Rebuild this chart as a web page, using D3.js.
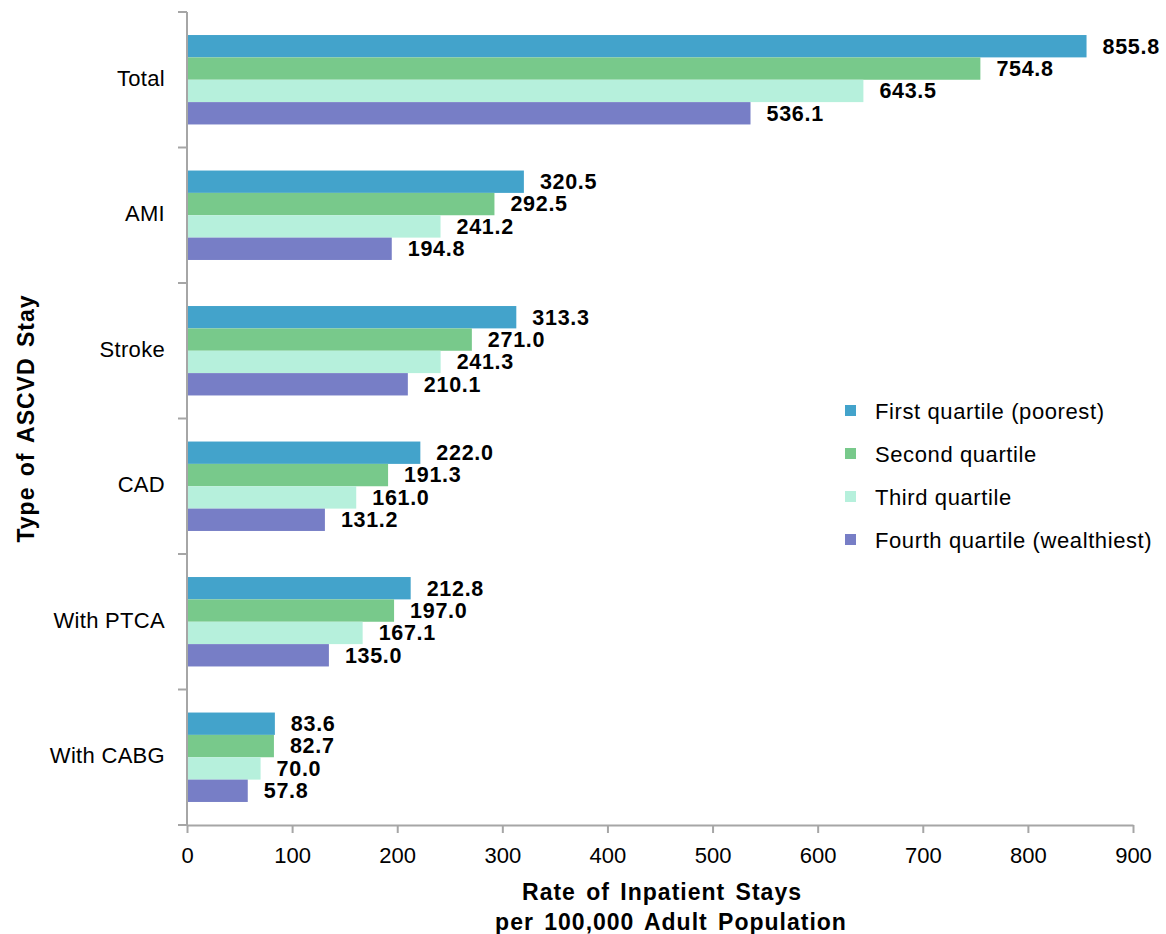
<!DOCTYPE html>
<html>
<head>
<meta charset="utf-8">
<script src="https://cdn.jsdelivr.net/npm/d3@7"></script>
<style>
  body { margin: 0; background: #fff; }
  text { font-family: "Liberation Sans", Arial, sans-serif; fill: #000; }
</style>
</head>
<body>
<div id="chart"></div>
<script>
// categories, top to bottom
var categories = ["Total", "AMI", "Stroke", "CAD", "With PTCA", "With CABG"];
var seriesNames = ["First quartile (poorest)", "Second quartile", "Third quartile", "Fourth quartile (wealthiest)"];
var seriesColors = ["#43a3cb", "#78c98b", "#b6f0dc", "#777ec6"];

// values per series, same order as categories
var firstQ  = [855.8, 320.5, 313.3, 222.0, 212.8, 83.6];
var secondQ = [754.8, 292.5, 271.0, 191.3, 197.0, 82.7];
var thirdQ  = [643.5, 241.2, 241.3, 161.0, 167.1, 70.0];
var fourthQ = [536.1, 194.8, 210.1, 131.2, 135.0, 57.8];
var series = [firstQ, secondQ, thirdQ, fourthQ];

var xTicks = [0, 100, 200, 300, 400, 500, 600, 700, 800, 900];

var W = 1166, H = 934;
var mLeft = 187, mRight = 1133, mTop = 12, mBottom = 825;

var svg = d3.select("#chart").append("svg")
    .attr("width", W)
    .attr("height", H);

var x = d3.scaleLinear().domain([0, 900]).range([mLeft, mRight]);
var y = d3.scaleBand().domain(categories).range([mTop, mBottom])
    .paddingInner(0.34).paddingOuter(0.17);
var ySub = d3.scaleBand().domain(d3.range(series.length)).range([0, y.bandwidth()]);

// rows of flat data for drawing
var rows = [];
categories.forEach(function(c, i) {
  series.forEach(function(s, j) {
    rows.push({ cat: c, s: j, v: s[i] });
  });
});

// bars
svg.append("g").selectAll("rect")
    .data(rows)
    .enter()
    .append("rect")
    .attr("x", x(0))
    .attr("y", function(d) { return y(d.cat) + ySub(d.s); })
    .attr("width", function(d) { return x(d.v) - x(0); })
    .attr("height", ySub.bandwidth())
    .attr("fill", function(d) { return seriesColors[d.s]; });

// value labels
svg.append("g").selectAll("text")
    .data(rows)
    .enter()
    .append("text")
    .attr("x", function(d) { return x(d.v) + 16; })
    .attr("y", function(d) { return y(d.cat) + ySub(d.s) + ySub.bandwidth() / 2; })
    .attr("dy", "0.34em")
    .style("font-size", "21.5px")
    .style("font-weight", "bold")
    .style("letter-spacing", "0.7px")
    .text(function(d) { return d.v.toFixed(1); });

// x axis
var xAxis = svg.append("g")
    .attr("transform", "translate(0," + mBottom + ")")
    .call(d3.axisBottom(x).tickValues(xTicks).tickSize(8).tickSizeOuter(0).tickPadding(14));
xAxis.selectAll("text").style("font-size", "22px").attr("fill", "#000");

// y axis: ticks at the category boundaries
var yBounds = categories.map(function(c) { return y(c) - y.step() * y.paddingInner() / 2; });
yBounds.push(mBottom);
var yAxis = svg.append("g");
yAxis.append("line")
    .attr("x1", mLeft).attr("x2", mLeft)
    .attr("y1", mTop).attr("y2", mBottom);
yAxis.selectAll(".tk")
    .data(yBounds)
    .enter()
    .append("line")
    .attr("x1", mLeft - 9).attr("x2", mLeft)
    .attr("y1", function(d) { return d; })
    .attr("y2", function(d) { return d; });
yAxis.selectAll("line").attr("stroke", "#a6a6a6").attr("stroke-width", 2);
xAxis.selectAll("line, path").attr("stroke", "#a6a6a6").attr("stroke-width", 2);

// category labels
svg.append("g").selectAll("text")
    .data(categories)
    .enter()
    .append("text")
    .attr("x", 165)
    .attr("y", function(d) { return y(d) + y.bandwidth() / 2 - 2; })
    .attr("dy", "0.36em")
    .attr("text-anchor", "end")
    .style("font-size", "22px")
    .style("letter-spacing", "0.3px")
    .text(function(d) { return d; });

// axis titles
svg.append("text")
    .attr("transform", "translate(34," + ((mTop + mBottom) / 2) + ") rotate(-90)")
    .attr("text-anchor", "middle")
    .style("font-size", "23px")
    .style("font-weight", "bold")
    .style("letter-spacing", "1px")
    .style("word-spacing", "3px")
    .text("Type of ASCVD Stay");

svg.append("text")
    .attr("x", 662).attr("y", 900)
    .attr("text-anchor", "middle")
    .style("font-size", "23px")
    .style("font-weight", "bold")
    .style("letter-spacing", "1px")
    .style("word-spacing", "3px")
    .text("Rate of Inpatient Stays");
svg.append("text")
    .attr("x", 671).attr("y", 930)
    .attr("text-anchor", "middle")
    .style("font-size", "23px")
    .style("font-weight", "bold")
    .style("letter-spacing", "1px")
    .style("word-spacing", "3px")
    .text("per 100,000  Adult Population");

// legend
var legend = svg.append("g").selectAll("g")
    .data(seriesNames)
    .enter()
    .append("g")
    .attr("transform", function(d, i) { return "translate(845," + (411 + i * 43) + ")"; });
legend.append("rect")
    .attr("x", 0).attr("y", -6)
    .attr("width", 11).attr("height", 11)
    .attr("fill", function(d, i) { return seriesColors[i]; });
legend.append("text")
    .attr("x", 30).attr("y", 0)
    .attr("dy", "0.36em")
    .style("font-size", "22px")
    .style("letter-spacing", "0.6px")
    .text(function(d) { return d; });
</script>
</body>
</html>
